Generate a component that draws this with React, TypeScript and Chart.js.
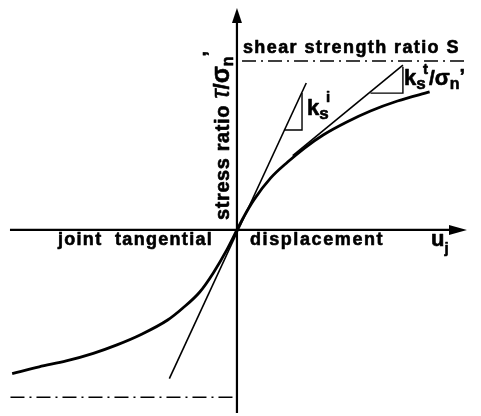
import { useEffect, useRef } from "react";
import { Chart, registerables } from "chart.js";

Chart.register(...registerables);

// Joint shear stress ratio (tau / sigma_n') versus joint tangential displacement u_j
// Units normalised so that the shear strength ratio S = 1.
const curveX = [
  -1.33, -1.17, -1.01, -0.85, -0.71, -0.57, -0.41, -0.32, -0.22, -0.14, -0.06, 0,
  0.04, 0.1, 0.2, 0.3, 0.4, 0.51, 0.65, 0.79, 0.95, 1.14,
];
const curveY = [
  -0.85, -0.81, -0.775, -0.73, -0.68, -0.62, -0.533, -0.462, -0.367, -0.254, -0.118, 0,
  0.077, 0.178, 0.308, 0.402, 0.485, 0.562, 0.639, 0.704, 0.763, 0.817,
];

// initial tangent (slope k_s^i)
const initTanX = [-0.4, 0.41];
const initTanY = [-0.88, 0.87];
// tangent at a later point (slope k_s^t / sigma_n')
const tanX = [0.33, 0.982];
const tanY = [0.44, 0.976];
// slope triangles
const triIX = [0.278, 0.385, 0.385];
const triIY = [0.592, 0.592, 0.811];
const triTX = [0.79, 0.982, 0.982];
const triTY = [0.81, 0.81, 0.966];
// shear strength ratio limits (+S, -S)
const upperSX = [0.03, 1.36];
const upperSY = [1.0, 1.0];
const lowerSX = [-1.34, 0];
const lowerSY = [-0.99, -0.99];
// axes
const xAxisX = [-1.343, 1.3];
const yAxisY = [-1.083, 1.26];
const xArrowTip = 1.361;
const yArrowTip = 1.314;

const pts = (xs: number[], ys: number[]) => xs.map((x, i) => ({ x, y: ys[i] }));

const FONT = '"Liberation Sans", Arial, sans-serif';

type Part = [string, number, number, number?, string?];
function drawRuns(ctx: CanvasRenderingContext2D, x: number, y: number, parts: Part[]) {
  let cx = x;
  ctx.strokeStyle = "#000";
  ctx.lineWidth = 0.6;
  ctx.lineJoin = "round";
  for (const [text, size, shift, spacing, style] of parts) {
    ctx.font = `${style ?? "bold"} ${size}px ${FONT}`;
    (ctx as any).letterSpacing = `${spacing ?? 0}px`;
    ctx.fillText(text, cx, y + shift);
    ctx.strokeText(text, cx, y + shift);
    cx += ctx.measureText(text).width;
  }
  (ctx as any).letterSpacing = "0px";
}

const overlay = {
  id: "overlay",
  afterDatasetsDraw(chart: any) {
    const ctx: CanvasRenderingContext2D = chart.ctx;
    const xs = chart.scales.x;
    const ys = chart.scales.y;
    const ox = xs.getPixelForValue(0);
    const oy = ys.getPixelForValue(0);
    ctx.save();
    ctx.fillStyle = "#000";
    // arrow heads
    const tx = xs.getPixelForValue(xArrowTip);
    ctx.beginPath();
    ctx.moveTo(tx, oy);
    ctx.lineTo(tx - 18, oy - 5);
    ctx.lineTo(tx - 18, oy + 5);
    ctx.closePath();
    ctx.fill();
    const ty = ys.getPixelForValue(yArrowTip);
    ctx.beginPath();
    ctx.moveTo(ox, ty);
    ctx.lineTo(ox - 5, ty + 15);
    ctx.lineTo(ox + 5, ty + 15);
    ctx.closePath();
    ctx.fill();

    ctx.textAlign = "left";
    ctx.textBaseline = "alphabetic";
    drawRuns(ctx, ox + 6, oy - 177, [["shear strength ratio S", 18, 0, 1.4]]);
    drawRuns(ctx, ox - 179, oy + 15, [["joint  tangential", 18, 0, 1.3]]);
    drawRuns(ctx, ox + 13, oy + 15, [["displacement", 18, 0, 1.6]]);
    drawRuns(ctx, ox + 194, oy + 16, [["u", 22, 0], ["j", 15, 7]]);
    drawRuns(ctx, ox + 70, oy - 115, [["k", 22, 0], ["s", 17, 4]]);
    drawRuns(ctx, ox + 89, oy - 128, [["i", 15, 0]]);
    drawRuns(ctx, ox + 167, oy - 145, [["k", 22, 0], ["s", 17, 4]]);
    drawRuns(ctx, ox + 186, oy - 156, [["t", 15, 0]]);
    drawRuns(ctx, ox + 192, oy - 145, [["/", 21, 0], ["σ", 22, 0], ["n", 16, 4], ["’", 20, -2]]);

    ctx.translate(ox - 8, oy - 10);
    ctx.rotate(-Math.PI / 2);
    drawRuns(ctx, 0, 0, [
      ["stress ratio ", 20, 0, 0.6],
      ["τ", 25, 0, 0, "italic"],
      ["/", 22, 0],
      ["σ", 25, 0],
      ["n", 16, 4],
      ["’", 20, -12],
    ]);
    ctx.restore();
  },
};

export default function App() {
  const ref = useRef<HTMLCanvasElement>(null);
  useEffect(() => {
    if (!ref.current) return;
    const line = (data: any[], width: number, extra: any = {}) => ({
      data,
      borderColor: "#000",
      backgroundColor: "#000",
      borderWidth: width,
      pointRadius: 0,
      fill: false,
      tension: 0,
      ...extra,
    });
    const chart = new Chart(ref.current, {
      type: "line",
      data: {
        datasets: [
          line(pts(xAxisX, [0, 0]), 2.2),
          line(pts([0, 0], yAxisY), 2.2),
          line(pts(upperSX, upperSY), 1.6, { borderDash: [14, 5, 2, 5] }),
          line(pts(lowerSX, lowerSY), 1.6, { borderDash: [14, 5, 2, 5] }),
          line(pts(initTanX, initTanY), 1.6),
          line(pts(tanX, tanY), 1.6),
          line(pts(triIX, triIY), 1.4),
          line(pts(triTX, triTY), 1.4),
          line(pts(curveX, curveY), 2.8, { cubicInterpolationMode: "monotone" }),
        ],
      },
      options: {
        animation: false,
        responsive: false,
        parsing: true,
        layout: { padding: 0 },
        plugins: { legend: { display: false }, tooltip: { enabled: false } },
        scales: {
          x: { type: "linear", min: -1.402, max: 1.444, display: false },
          y: { type: "linear", min: -1.101, max: 1.361, display: false },
        },
      },
      plugins: [overlay],
    });
    return () => chart.destroy();
  }, []);
  return (
    <div style={{ position: "fixed", left: 0, top: 0, width: 481, height: 416, background: "#fff" }}>
      <canvas ref={ref} width={481} height={416} />
    </div>
  );
}
